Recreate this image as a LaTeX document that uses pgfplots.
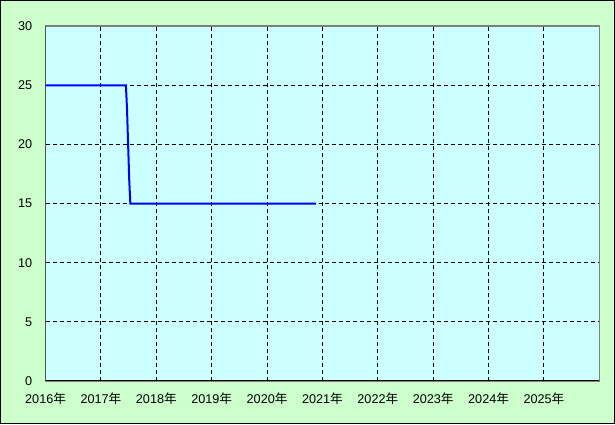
\documentclass[border=0pt]{standalone}
\usepackage{fontspec}
\setmainfont{Liberation Sans}
\newfontfamily\cjk{Noto Sans CJK JP}
\usepackage{pgfplots}
\pgfplotsset{compat=1.18}
\definecolor{outerbg}{HTML}{CCFFCC}
\definecolor{innerbg}{HTML}{CCFFFF}
\begin{document}
\begin{tikzpicture}[x=0.75pt,y=0.75pt]
\fill[outerbg] (-45.5,-43) rectangle (569.5,381);
\draw[black,line width=0.75pt] (-45.125,-42.625) rectangle (569.125,380.625);
\begin{axis}[
  at={(0,0)}, anchor=south west,
  scale only axis, width=415.5pt, height=266.25pt,
  xmin=2016, xmax=2026, ymin=0, ymax=30,
  xtick={2016,2017,...,2025},
  xticklabels={2016{\cjk 年},2017{\cjk 年},2018{\cjk 年},2019{\cjk 年},2020{\cjk 年},2021{\cjk 年},2022{\cjk 年},2023{\cjk 年},2024{\cjk 年},2025{\cjk 年}},
  ytick={0,5,...,30},
  /pgf/number format/assume math mode=true,
  tick label style={font=\fontsize{9.5}{11}\selectfont},
  yticklabel style={xshift=-6.5pt},
  xticklabel style={yshift=-5pt},
  major tick length=0pt,
  grid=major,
  major grid style={black, line width=0.75pt, dash pattern=on 3pt off 2.25pt},
  axis background/.style={fill=innerbg},
  axis line style={draw=gray, line width=1pt},
]
\addplot[blue, line width=1.5pt, mark=none] coordinates {
  (2016,25) (2017.45,25) (2017.47,23) (2017.49,20) (2017.51,17) (2017.53,15) (2020.88,15)
};
\draw[black, line width=1pt] (rel axis cs:0,1) -- (rel axis cs:0,0) -- (rel axis cs:1,0);
\end{axis}
\end{tikzpicture}
\end{document}
